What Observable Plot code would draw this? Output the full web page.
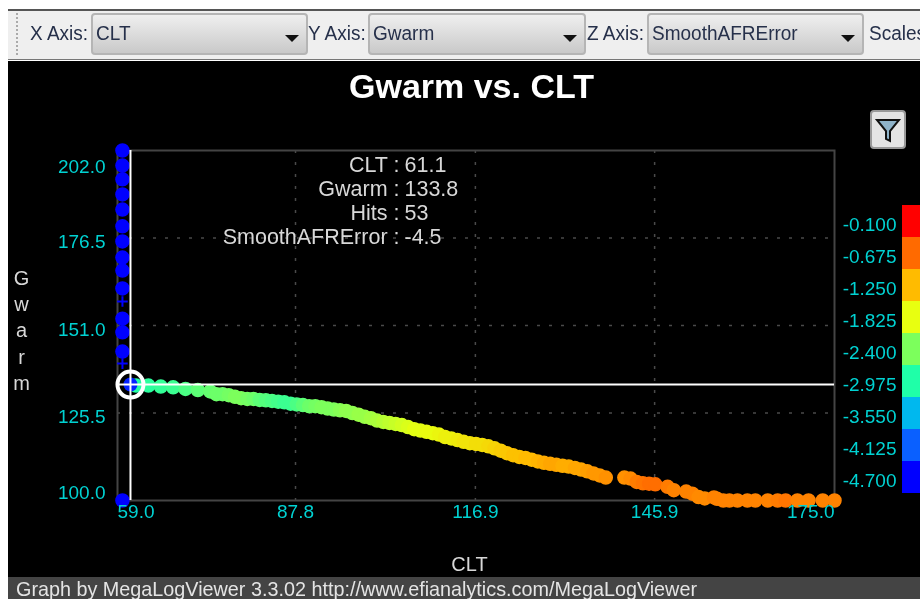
<!DOCTYPE html>
<html>
<head>
<meta charset="utf-8">
<script src="https://cdn.jsdelivr.net/npm/d3@7"></script>
<script src="https://cdn.jsdelivr.net/npm/@observablehq/plot@0.6"></script>
<style>
html,body{margin:0;padding:0;background:#fff;overflow:hidden}
#page{position:relative;width:920px;height:599px;overflow:hidden;font-family:"Liberation Sans",sans-serif;filter:blur(.4px)}
#bg{position:absolute;left:8px;top:61px;right:0;bottom:0;background:#000}
#bar{position:absolute;left:8px;right:0;top:9px;height:51px;background:#efefef;border-top:2px solid #555;border-bottom:1px solid #777;box-sizing:border-box}
#grip{position:absolute;left:16px;top:13px;height:42px;width:2px;border-left:2px dotted #aaa}
.lab{position:absolute;top:20px;font-size:20px;color:#26304a;white-space:nowrap;line-height:26px;transform-origin:left center;transform:scaleX(.95)}
.combo{position:absolute;top:13px;height:42px;box-sizing:border-box;border:2px solid #b5b5b5;border-radius:4px;background:linear-gradient(#efefef,#c9c9c9)}
.combo span{position:absolute;left:3px;top:5px;font-size:20px;line-height:26px;color:#26304a;transform-origin:left center;transform:scaleX(.95);white-space:nowrap}
.combo i{position:absolute;right:7px;top:20px;width:0;height:0;border-left:7px solid transparent;border-right:7px solid transparent;border-top:7px solid #111}
#filter{position:absolute;left:870px;top:110px;width:36px;height:39px;box-sizing:border-box;border:2px solid #999;border-radius:4px;background:#e4e4e4}
#foot{position:absolute;left:8px;right:0;top:577px;height:22px;background:#444;color:#e4e4e4;font-size:19.8px;line-height:24px;padding-left:8px;white-space:nowrap}
#main,#legend{position:absolute}
#main{left:0;top:61px}
#legend{left:830px;top:205px}
svg{display:block}
</style>
</head>
<body>
<div id="page">
  <div id="bg"></div>
  <div id="bar"></div>
  <div id="grip"></div>
  <div class="lab" style="left:30px">X Axis:</div>
  <div class="combo" style="left:91px;width:217px"><span>CLT</span><i></i></div>
  <div class="lab" style="left:308px">Y Axis:</div>
  <div class="combo" style="left:368px;width:218px"><span>Gwarm</span><i></i></div>
  <div class="lab" style="left:587px">Z Axis:</div>
  <div class="combo" style="left:647px;width:217px"><span>SmoothAFRError</span><i></i></div>
  <div class="lab" style="left:869px">Scales</div>
  <div id="main"></div>
  <div id="filter"><svg width="32" height="35" viewBox="0 0 32 35"><path d="M5 8H27L18 19V29L14 27V19Z" fill="#8fb3c9" stroke="#111" stroke-width="2"/></svg></div>
  <div id="legend"></div>
  <div id="foot">Graph by MegaLogViewer 3.3.02 http://www.efianalytics.com/MegaLogViewer</div>
</div>
<script>
// Main curve: CLT, Gwarm and SmoothAFRError
const clt = [
  62,64,66,68,70,72,74,75,76,77,
  78,79,80,81,82,83,84,85,86,87,
  88,89,90,91,92,93,94,95,96,97,
  98,99,100,101,102,103,104,105,106,107,
  108,109,110,111,112,113,114,115,116,117,
  118,119,120,121,122,123,124,125,126,127,
  128,129,130,131,132,133,134,135,136,137,
  138,141,142,143,144,145,146,148,149,151,
  152,153,154,155.5,156,157,158,159.3,160.9,162.2,
  164.2,165.8,167.1,169,170.8,173.1,175];
const gwarm = [
  133.5,133.5,133.2,133,132.5,132.2,131.8,131,131,130.7,
  130.2,129.8,129.6,129.6,129.3,129.2,129,128.8,128.6,128.2,
  128,127.8,127.5,127.5,127.2,126.8,126.5,126.3,126.1,125.5,
  125,124.4,124,123.3,122.9,122.6,122.3,122,121.4,120.8,
  120.4,120,119.6,119.2,118.5,118.1,117.6,117.1,116.7,116.5,
  116.2,115.8,115.2,114.5,113.8,113.2,112.7,112.4,111.9,111.4,
  111,110.7,110.4,110.1,109.9,109.5,109,108.5,107.9,107.3,
  106.7,106.7,106.4,105.4,105,104.9,104.7,104,103,102.6,
  102,101,100.6,100.9,100.5,100,100,100,100,100,
  100,100,100,100,100,100,100];
const afrError = [
  -2.95,-2.9,-2.85,-2.8,-2.7,-2.6,-2.55,-2.5,-2.5,-2.45,
  -2.4,-2.4,-2.45,-2.5,-2.6,-2.65,-2.7,-2.75,-2.8,-2.8,
  -2.7,-2.6,-2.5,-2.45,-2.4,-2.4,-2.4,-2.35,-2.3,-2.3,
  -2.25,-2.25,-2.2,-2.15,-2.1,-2.05,-2,-1.95,-1.9,-1.85,
  -1.85,-1.8,-1.8,-1.75,-1.7,-1.7,-1.65,-1.6,-1.6,-1.55,
  -1.55,-1.5,-1.45,-1.4,-1.35,-1.3,-1.3,-1.25,-1.25,-1.2,
  -1.15,-1.1,-1.1,-1.15,-1.15,-1.1,-1.1,-1.05,-1,-1,
  -.95,-.95,-.9,-.8,-.75,-.7,-.7,-.8,-.85,-.85,
  -.85,-.9,-.9,-.85,-.85,-.85,-.85,-.85,-.85,-.85,
  -.85,-.8,-.75,-.85,-.85,-.85,-.85];
// Cold-start column of points
const coldClt = 59.8;
const coldGwarm = [202,197.6,193.6,189.2,184.8,179.9,175.5,170.8,167,161.8,153,149,143.4,100];
const coldSmallGwarm = [158,139.9];
const coldError = -4.7;
// Highlighted cell
const cursorClt = 61.1, cursorGwarm = 133.8, cursorError = -4.5;
// Axes and legend
const xTicks = [59,87.8,116.9,145.9,175];
const yTicks = [202,176.5,151,125.5,100];
const legendValues = [-0.1,-0.675,-1.25,-1.825,-2.4,-2.975,-3.55,-4.125,-4.7];
const legendLabels = ["-0.100","-0.675","-1.250","-1.825","-2.400","-2.975","-3.550","-4.125","-4.700"];
const legendColors = ["#ff0000","#ff6a00","#ffbb00","#e8ff10","#7cff5c","#1fffa8","#00b8ee","#0a60ff","#0000ff"];
const readoutKeys = ["CLT :","Gwarm :","Hits :","SmoothAFRError :"];
const readoutVals = ["61.1","133.8","53","-4.5"];
const yTitle = ["G","w","a","r","m"];

const curve = clt.map((c,i)=>({x:c,y:gwarm[i],z:afrError[i]}));
const cold = coldGwarm.map(y=>({x:coldClt,y,z:coldError}));
const coldSmall = coldSmallGwarm.map(y=>({x:coldClt,y,z:coldError}));
const cyan = "#00d2d2", pale = "#d8d8d8", font = "Liberation Sans";
const tickLabel = (data, o) => Plot.text(data, {fill:cyan, fontSize:19, text:d=>d.toFixed(1), ...o});

const main = Plot.plot({
  width:920, height:517,
  marginLeft:117, marginRight:86, marginTop:89, marginBottom:78,
  style:{background:"transparent", fontFamily:font},
  x:{domain:[59,175], axis:null},
  y:{domain:[100,202], axis:null},
  color:{type:"linear", domain:legendValues.slice().reverse(), range:legendColors.slice().reverse(), clamp:true},
  marks:[
    Plot.ruleX(xTicks.slice(1,4),{stroke:"#4a4a4a",strokeDasharray:"3 9",strokeWidth:1.5}),
    Plot.ruleY(yTicks.slice(1,4),{stroke:"#4a4a4a",strokeDasharray:"3 9",strokeWidth:1.5}),
    Plot.frame({stroke:"#444",strokeWidth:2}),
    Plot.dot(cold,{x:"x",y:"y",fill:"z",stroke:"z",strokeWidth:1.5,r:6.5}),
    Plot.dot(coldSmall,{x:"x",y:"y",stroke:"z",symbol:"plus",r:3.5,strokeWidth:2}),
    Plot.dot(curve,{x:"x",y:"y",fill:"z",stroke:"z",strokeWidth:1.5,r:6.5}),
    Plot.dot([{x:cursorClt,y:cursorGwarm,z:cursorError}],{x:"x",y:"y",fill:"z",r:7}),
    Plot.ruleX([cursorClt],{stroke:"#fff",strokeWidth:2}),
    Plot.ruleY([cursorGwarm],{stroke:"#fff",strokeWidth:2}),
    Plot.dot([{x:cursorClt,y:cursorGwarm}],{x:"x",y:"y",r:13,stroke:"#fff",strokeWidth:4,fill:"none"}),
    // tick labels
    tickLabel(xTicks.slice(0,1),{x:d=>d,frameAnchor:"bottom",textAnchor:"start",dy:17}),
    tickLabel(xTicks.slice(1,4),{x:d=>d,frameAnchor:"bottom",textAnchor:"middle",dy:17}),
    tickLabel(xTicks.slice(4),{x:d=>d,frameAnchor:"bottom",textAnchor:"end",dy:17}),
    tickLabel(yTicks.slice(0,1),{y:d=>d,frameAnchor:"left",textAnchor:"end",dx:-12,dy:16}),
    tickLabel(yTicks.slice(1,4),{y:d=>d,frameAnchor:"left",textAnchor:"end",dx:-12,dy:4}),
    tickLabel(yTicks.slice(4),{y:d=>d,frameAnchor:"left",textAnchor:"end",dx:-12,dy:-8}),
    // readout
    ...readoutKeys.map((k,i)=>Plot.text([k],{text:d=>d,frameAnchor:"top-left",textAnchor:"end",lineAnchor:"middle",dx:282,dy:15+24*i,fill:pale,fontSize:21.5})),
    ...readoutVals.map((v,i)=>Plot.text([v],{text:d=>d,frameAnchor:"top-left",textAnchor:"start",lineAnchor:"middle",dx:287,dy:15+24*i,fill:pale,fontSize:21.5})),
    // titles
    Plot.text(["Gwarm vs. CLT"],{text:d=>d,frameAnchor:"top",lineAnchor:"middle",dx:-4.5,dy:-63,fill:"#fff",fontSize:34,fontWeight:"bold"}),
    Plot.text(["CLT"],{text:d=>d,frameAnchor:"bottom",lineAnchor:"middle",dx:-6.5,dy:64,fill:pale,fontSize:20}),
    ...yTitle.map((c,i)=>Plot.text([c],{text:d=>d,frameAnchor:"top-left",textAnchor:"middle",lineAnchor:"middle",dx:-96,dy:128+26.25*i,fill:pale,fontSize:20}))
  ]
});
document.getElementById("main").append(main);

const legend = Plot.plot({
  width:90, height:288,
  marginLeft:72, marginRight:0, marginTop:0, marginBottom:0,
  style:{background:"transparent", fontFamily:font},
  x:{axis:null},
  y:{type:"band", domain:legendLabels, padding:0, axis:null},
  color:{type:"ordinal", domain:legendLabels, range:legendColors},
  marks:[
    Plot.cell(legendLabels,{y:d=>d,fill:d=>d}),
    Plot.text(legendLabels,{y:d=>d,text:d=>d,frameAnchor:"right",textAnchor:"end",dx:-24,dy:3,fill:cyan,fontSize:19})
  ]
});
document.getElementById("legend").append(legend);
</script>
</body>
</html>
